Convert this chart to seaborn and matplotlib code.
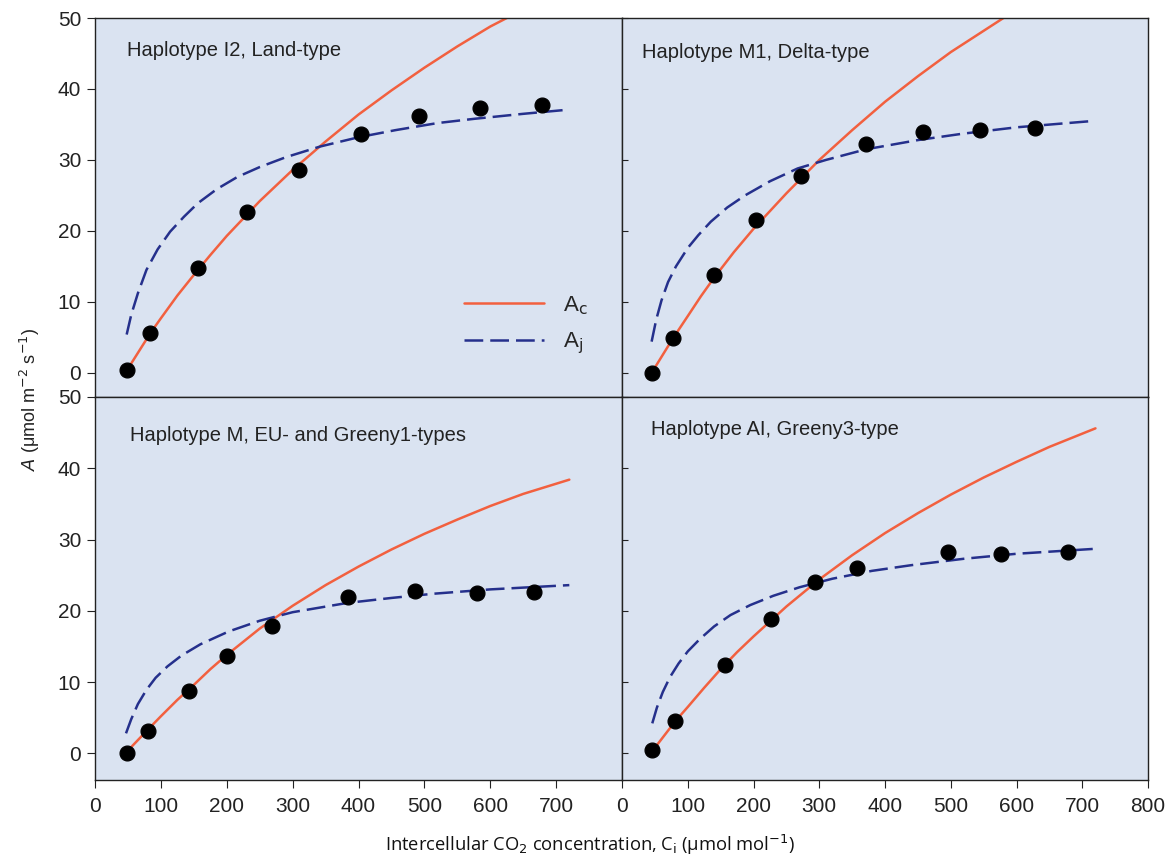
import matplotlib
matplotlib.use('Agg')
import matplotlib.pyplot as plt
import seaborn as sns
import pandas as pd

# measured A/Ci points, one set per haplotype
ci_i2 = [49, 84, 157, 230, 309, 404, 492, 584, 679]
a_i2 = [0.4, 5.6, 14.8, 22.7, 28.6, 33.7, 36.2, 37.3, 37.8]
ci_m1 = [45, 77, 140, 204, 272, 371, 457, 544, 628]
a_m1 = [0.0, 4.9, 13.8, 21.5, 27.8, 32.3, 34.0, 34.2, 34.5]
ci_m = [48, 81, 143, 201, 269, 384, 486, 580, 666]
a_m = [0.0, 3.1, 8.7, 13.7, 17.8, 21.9, 22.8, 22.5, 22.7]
ci_al = [46, 81, 156, 226, 293, 358, 495, 576, 678]
a_al = [0.5, 4.6, 12.4, 18.9, 24.0, 26.0, 28.3, 27.9, 28.2]

# Ac (Rubisco limited) curves
ac_x_i2 = [50, 84, 100, 125, 150, 175, 200, 250, 300, 350, 400, 450, 500, 550, 600, 625]
ac_y_i2 = [0.6, 5.6, 7.7, 10.9, 13.8, 16.6, 19.3, 24.2, 28.6, 32.6, 36.4, 39.8, 43.0, 46.0, 48.8, 50.0]
ac_x_m1 = [45, 77, 100, 120, 140, 170, 200, 250, 300, 350, 400, 450, 500, 550, 580]
ac_y_m1 = [0.0, 4.8, 8.0, 10.8, 13.4, 17.0, 20.3, 25.3, 30.0, 34.2, 38.2, 41.8, 45.2, 48.2, 50.0]
ac_x_m = [48, 80, 100, 125, 150, 175, 200, 250, 300, 350, 400, 450, 500, 550, 600, 650, 720]
ac_y_m = [0.2, 3.3, 5.2, 7.5, 9.6, 11.8, 13.8, 17.5, 20.7, 23.6, 26.2, 28.6, 30.8, 32.8, 34.7, 36.4, 38.4]
ac_x_al = [46, 81, 100, 125, 150, 175, 200, 250, 300, 350, 400, 450, 500, 550, 600, 650, 720]
ac_y_al = [0.3, 4.5, 6.5, 9.2, 11.8, 14.2, 16.4, 20.6, 24.4, 27.8, 30.9, 33.7, 36.3, 38.7, 40.9, 43.0, 45.6]

# Aj (RuBP regeneration limited) curves
aj_x_i2 = [48, 55, 65, 78, 95, 114, 135, 156, 185, 216, 250, 290, 342, 400, 456, 520, 576, 650, 720]
aj_y_i2 = [5.4, 8.2, 11.2, 14.5, 17.4, 19.9, 22.0, 23.9, 25.9, 27.6, 29.0, 30.4, 31.9, 33.2, 34.2, 35.2, 35.8, 36.5, 37.1]
aj_x_m1 = [45, 52, 60, 70, 82, 100, 116, 135, 160, 187, 225, 267, 310, 371, 450, 518, 600, 717]
aj_y_m1 = [4.4, 7.5, 10.2, 12.8, 15.0, 17.6, 19.4, 21.3, 23.3, 25.0, 27.0, 28.8, 30.0, 31.5, 32.8, 33.7, 34.6, 35.5]
aj_x_m = [47, 55, 65, 78, 92, 110, 131, 160, 203, 250, 300, 383, 450, 515, 600, 720]
aj_y_m = [2.8, 4.8, 6.9, 8.9, 10.6, 12.2, 13.7, 15.3, 17.1, 18.6, 19.8, 21.1, 21.8, 22.4, 23.0, 23.6]
aj_x_al = [46, 53, 62, 73, 86, 100, 118, 140, 165, 195, 230, 270, 320, 380, 440, 520, 600, 720]
aj_y_al = [4.2, 6.4, 8.6, 10.7, 12.6, 14.3, 16.0, 17.8, 19.4, 20.8, 22.1, 23.3, 24.5, 25.6, 26.4, 27.3, 28.0, 28.7]

titles = ['Haplotype I2, Land-type', 'Haplotype M1, Delta-type',
          'Haplotype M, EU- and Greeny1-types', 'Haplotype AI, Greeny3-type']

panels = [
    (ci_i2, a_i2, ac_x_i2, ac_y_i2, aj_x_i2, aj_y_i2),
    (ci_m1, a_m1, ac_x_m1, ac_y_m1, aj_x_m1, aj_y_m1),
    (ci_m, a_m, ac_x_m, ac_y_m, aj_x_m, aj_y_m),
    (ci_al, a_al, ac_x_al, ac_y_al, aj_x_al, aj_y_al),
]

BG = '#DAE3F1'
RED = '#F2603F'
BLUE = '#25308C'

sns.set_style('ticks')
plt.rcParams['font.family'] = ['Liberation Sans', 'DejaVu Sans']

fig = plt.figure(figsize=(11.69, 8.58), dpi=100)
rects = [
    [0.0813, 0.5373, 0.4508, 0.4417],
    [0.5321, 0.5373, 0.4500, 0.4417],
    [0.0813, 0.0909, 0.4508, 0.4464],
    [0.5321, 0.0909, 0.4500, 0.4464],
]
title_pos = [(0.061, 0.915), (0.038, 0.908), (0.066, 0.90), (0.055, 0.914)]

for i, (rect, data) in enumerate(zip(rects, panels)):
    ax = fig.add_axes(rect)
    ax.set_facecolor(BG)
    ci, a, acx, acy, ajx, ajy = data

    ac_df = pd.DataFrame({'ci': acx, 'A': acy})
    aj_df = pd.DataFrame({'ci': ajx, 'A': ajy})
    pts = pd.DataFrame({'ci': ci, 'A': a})

    sns.lineplot(data=ac_df, x='ci', y='A', ax=ax, color=RED, lw=1.8,
                 sort=False, label='A$_\\mathrm{c}$' if i == 0 else None)
    sns.lineplot(data=aj_df, x='ci', y='A', ax=ax, color=BLUE, lw=1.8,
                 sort=False, label='A$_\\mathrm{j}$' if i == 0 else None)
    ax.lines[-1].set_linestyle((0, (7.5, 2.8)))
    sns.scatterplot(data=pts, x='ci', y='A', ax=ax, color='black', s=115,
                    edgecolor='black', zorder=5)

    ax.set_xlim(0, 800)
    ax.set_ylim(-3.4 if i < 2 else -3.75, 50)
    ax.set_xlabel('')
    ax.set_ylabel('')
    for sp in ax.spines.values():
        sp.set_color('#222222')
        sp.set_linewidth(1.0)

    ax.text(title_pos[i][0], title_pos[i][1], titles[i], transform=ax.transAxes,
            fontsize=14.5, color='#222222', va='center', ha='left')

    left = i % 2 == 0
    bottom = i >= 2
    ax.set_yticks(range(0, 51, 10))
    if left:
        ax.tick_params(axis='y', direction='out', length=6, labelsize=15,
                       pad=4, colors='#222222')
    else:
        ax.tick_params(axis='y', direction='in', length=4, labelleft=False,
                       colors='#222222')
    if bottom:
        if left:
            ax.set_xticks(range(0, 701, 100))
        else:
            ax.set_xticks(range(0, 801, 100))
        ax.tick_params(axis='x', direction='out', length=6, labelsize=15,
                       pad=6, colors='#222222')
    else:
        ax.set_xticks([])

    if i == 0:
        ax.legend(loc='center left', bbox_to_anchor=(0.662, 0.19),
                  frameon=False, fontsize=16, handlelength=3.6,
                  labelspacing=0.62, handletextpad=0.85)
    elif ax.get_legend() is not None:
        ax.get_legend().remove()

fig.text(0.026, 0.534, '$\\mathit{A}$ (\u03bcmol m$^{-2}$ s$^{-1}$)', rotation=90,
         fontsize=13, va='center', ha='center', color='#222222')
fig.text(0.505, 0.015, 'Intercellular CO$_2$ concentration, C$_\\mathrm{i}$ (\u03bcmol mol$^{-1}$)',
         fontsize=13.2, va='center', ha='center', color='#111111',
         family=['Open Sans', 'DejaVu Sans'])

fig.savefig('out.png', dpi=100, facecolor='white')
